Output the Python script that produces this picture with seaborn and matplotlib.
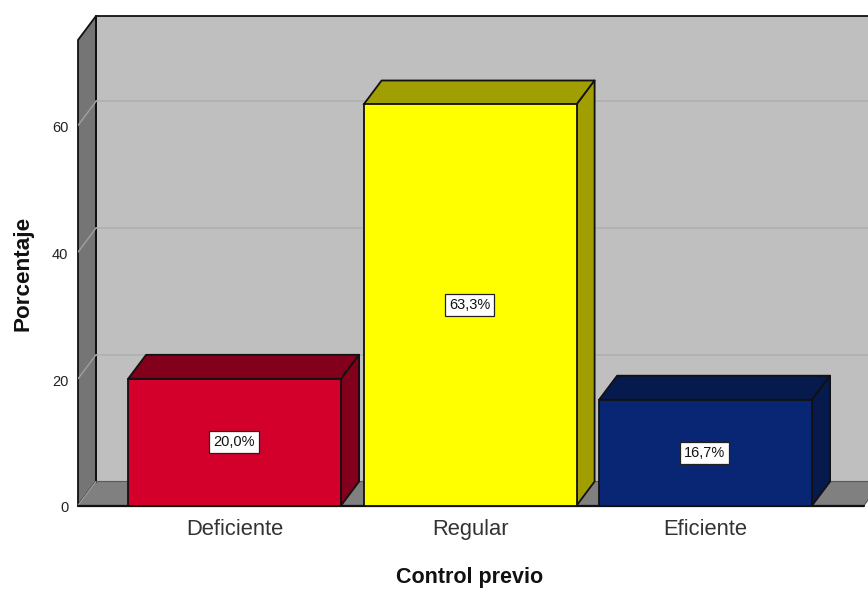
import matplotlib
matplotlib.use("Agg")
import matplotlib.pyplot as plt
from matplotlib.patches import Polygon
from matplotlib.transforms import ScaledTranslation
import pandas as pd
import seaborn as sns

categories = ["Deficiente", "Regular", "Eficiente"]
percentages = [20.0, 63.3, 16.7]
value_labels = ["20,0%", "63,3%", "16,7%"]
y_ticks = [0, 20, 40, 60]

front_colors = ["#D3002C", "#FFFF00", "#082673"]
top_colors = ["#82001C", "#A09E00", "#061A4D"]
side_colors = ["#82001C", "#A09E00", "#061A4D"]

WIDTH, HEIGHT = 868, 590
PX_PER_UNIT = 6.335
PX_PER_CAT = 235.5
DEPTH_X = 18 / PX_PER_CAT
DEPTH_Y = 24 / PX_PER_UNIT
BAR_WIDTH = 213 / PX_PER_CAT
FIRST_CENTER_PX = 234.6

sns.set_theme(style="white")
plt.rcParams["font.family"] = ["Liberation Sans", "DejaVu Sans"]

fig = plt.figure(figsize=(WIDTH / 100, HEIGHT / 100), dpi=100, facecolor="white")
left_px, right_px, top_px, bottom_px = 78, 868, 40, 505.5
ax = fig.add_axes([left_px / WIDTH, 1 - bottom_px / HEIGHT,
                   (right_px - left_px) / WIDTH, (bottom_px - top_px) / HEIGHT])

table = pd.DataFrame({"categoria": categories, "porcentaje": percentages})
sns.barplot(data=table, x="categoria", y="porcentaje", hue="categoria",
            palette=front_colors, order=categories, hue_order=categories,
            width=BAR_WIDTH, legend=False, saturation=1,
            edgecolor="#111111", linewidth=1.3, ax=ax)

xmin = (left_px - FIRST_CENTER_PX) / PX_PER_CAT
xmax = (right_px - FIRST_CENTER_PX) / PX_PER_CAT
ymax = (bottom_px - top_px) / PX_PER_UNIT
ax.set_xlim(xmin, xmax)
ax.set_ylim(0, ymax)
for spine in ax.spines.values():
    spine.set_visible(False)
ax.patch.set_visible(False)


def face(points, color, z, edge="#111111", lw=1.3):
    patch = Polygon(points, closed=True, facecolor=color, edgecolor=edge,
                    linewidth=lw, zorder=z, clip_on=False, joinstyle="round")
    ax.add_patch(patch)
    return patch


# Room behind the bars: back wall, left wall and floor
floor_right = (864 - FIRST_CENTER_PX) / PX_PER_CAT
back_left = xmin + DEPTH_X
back_top = ymax + DEPTH_Y
face([(back_left, DEPTH_Y), (xmax + 0.2, DEPTH_Y), (xmax + 0.2, back_top), (back_left, back_top)],
     "#BFBFBF", 0.5)
face([(xmin, 0), (back_left, DEPTH_Y), (back_left, back_top), (xmin, ymax)], "#757575", 0.6)
face([(xmin, 0), (floor_right, 0), (floor_right + DEPTH_X, DEPTH_Y), (back_left, DEPTH_Y)],
     "#808080", 0.7, edge="#5A5A5A", lw=0.8)
ax.plot([back_left, back_left], [DEPTH_Y, back_top], color="#111111", lw=1.3, zorder=0.75,
        clip_on=False)

# Gridlines run along the back wall and fold down the left wall
for tick in y_ticks[1:]:
    ax.plot([back_left, xmax + 0.2], [tick + DEPTH_Y, tick + DEPTH_Y],
            color="#B0B0B0", lw=1.2, zorder=0.8, clip_on=False)
    ax.plot([xmin, back_left], [tick, tick + DEPTH_Y], color="#A0A0A0", lw=1.0, zorder=0.8)
ax.plot([xmin, back_left], [0, DEPTH_Y], color="#A0A0A0", lw=0.9, zorder=0.8)

# Top and side faces give each bar its depth
half = BAR_WIDTH / 2
for i, value in enumerate(percentages):
    x0, x1 = i - half, i + half
    face([(x0, value), (x1, value), (x1 + DEPTH_X, value + DEPTH_Y), (x0 + DEPTH_X, value + DEPTH_Y)],
         top_colors[i], 1.0)
    face([(x1, 0), (x1 + DEPTH_X, DEPTH_Y), (x1 + DEPTH_X, value + DEPTH_Y), (x1, value)],
         side_colors[i], 1.0)

for container in ax.containers:
    for bar in container.patches:
        bar.set_zorder(2)

for i, (value, label) in enumerate(zip(percentages, value_labels)):
    ax.annotate(label, xy=(i, value / 2), xytext=(-0.5, 0), textcoords="offset points",
                ha="center", va="center", fontsize=10.5, color="#111111", zorder=3,
                bbox=dict(boxstyle="square,pad=0.27", facecolor="white",
                          edgecolor="#222222", linewidth=0.9))

# Baseline across the front of the floor
ax.plot([xmin, floor_right], [0, 0], color="#111111", lw=1.6, zorder=1.5, clip_on=False)

ax.set_yticks(y_ticks)
ax.set_xticks(range(len(categories)))
ax.set_xticklabels(categories)
ax.tick_params(axis="y", length=0, pad=7, labelsize=10.5, colors="#222222")
ax.tick_params(axis="x", length=0, pad=10, labelsize=15.8, colors="#333333")
down = ScaledTranslation(0, -1.5 / 100, fig.dpi_scale_trans)
for tick_label in ax.get_yticklabels():
    tick_label.set_transform(tick_label.get_transform() + down)
ax.set_xlabel("")
ax.set_ylabel("")
fig.text(470 / WIDTH, 1 - 577 / HEIGHT, "Control previo", ha="center", va="center",
         fontsize=15.5, fontweight="bold", color="#111111")
fig.text(23 / WIDTH, 1 - 273 / HEIGHT, "Porcentaje", rotation=90, ha="center", va="center",
         fontsize=16.2, fontweight="bold", color="#111111")

fig.savefig("out.png", dpi=100, facecolor="white")
